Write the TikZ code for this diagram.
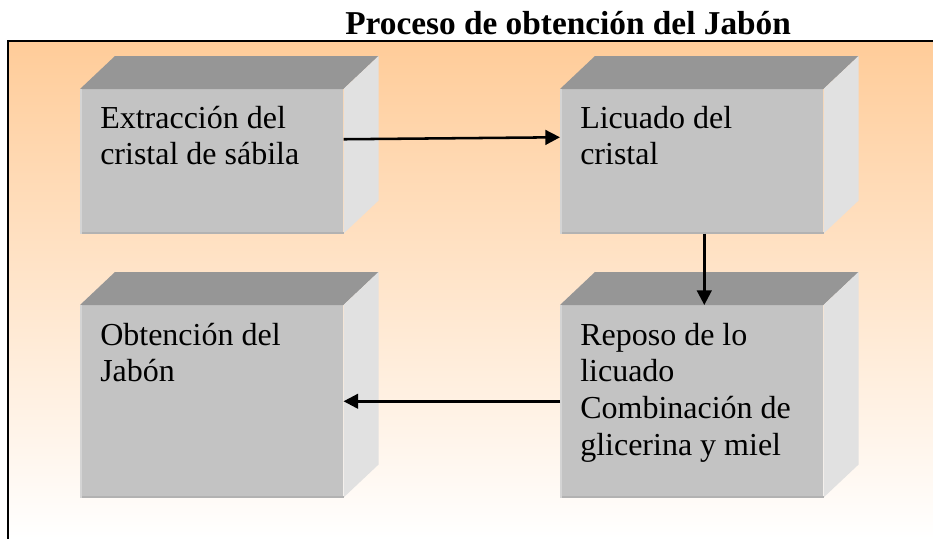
\documentclass[tikz,border=0pt]{standalone}
\usepackage{fontspec}
\setmainfont{Liberation Serif}
\usetikzlibrary{arrows.meta,calc}
\definecolor{peach}{RGB}{255,204,153}
\definecolor{frontgray}{RGB}{195,195,195}
\definecolor{topgray}{RGB}{150,150,150}
\definecolor{sidegray}{RGB}{225,225,225}
\definecolor{edgedark}{RGB}{178,178,178}
\definecolor{edgelight}{RGB}{212,212,212}
\tikzset{
  frontface/.style={draw=none, fill=frontgray, minimum width=197.25pt, inner sep=0pt, anchor=north west},
  smallbox/.style={frontface, minimum height=108pt},
  tallbox/.style={frontface, minimum height=144pt},
  topface/.style={fill=topgray},
  sideface/.style={fill=sidegray},
  lbl/.style={font=\fontsize{24}{27.6}\selectfont, align=left, inner sep=0pt, anchor=base west},
  arr/.style={line width=1.9pt, -{Triangle[length=11pt,width=11pt]}},
}
\newcommand{\boxfaces}[1]{%
  \fill[topface] (#1.north west) -- ++(35,-33) -- ($(#1.north east)+(35,-33)$) -- (#1.north east) -- cycle;
  \fill[sideface] (#1.north east) -- ++(35,-33) -- ($(#1.south east)+(35,-33)$) -- (#1.south east) -- cycle;
  \draw[edgedark, line width=1.5pt] ([yshift=0.75pt]#1.south west) -- ([yshift=0.75pt]#1.south east);
  \draw[edgelight, line width=1.5pt] ([xshift=0.75pt]#1.south west) -- ([xshift=0.75pt]#1.north west);
}
\begin{document}
\begin{tikzpicture}[x=0.75pt, y=-0.75pt]
\useasboundingbox (0,0) rectangle (933,539);
\shade[top color=peach, bottom color=white] (7.5,40.5) rectangle (933,539);
\draw[line width=1.5pt] (7.5,539) -- (7.5,40.5) -- (933,40.5);
\node[font=\bfseries\fontsize{25}{30}\selectfont, anchor=base west, inner sep=0pt] (title) at (345,35) {Proceso de obtención del Jabón};

\node[smallbox] (b1) at (80,89) {};
\node[smallbox] (b2) at (560,89) {};
\node[tallbox] (b3) at (80,305) {};
\node[tallbox] (b4) at (560,305) {};
\boxfaces{b1}
\boxfaces{b2}
\boxfaces{b3}
\boxfaces{b4}

% base anchor = baseline of the last line
\node[lbl] (t1) at (100,164.8) {Extracción del\\cristal de sábila};
\node[lbl] (t2) at (580,164.8) {Licuado del\\cristal};
\node[lbl] (t3) at (100,381.8) {Obtención del\\Jabón};
\node[lbl] (t4) at (580,455.4) {Reposo de lo\\licuado\\Combinación de\\glicerina y miel};

\draw[arr] ([yshift=16.5pt]b1.east) -- ([yshift=18pt]b2.west);
\draw[arr] ([xshift=9.4pt]b2.south) -- ([xshift=9.4pt]b4.north);
\draw[arr] (b4.west) -- (b3.east);
\end{tikzpicture}
\end{document}
